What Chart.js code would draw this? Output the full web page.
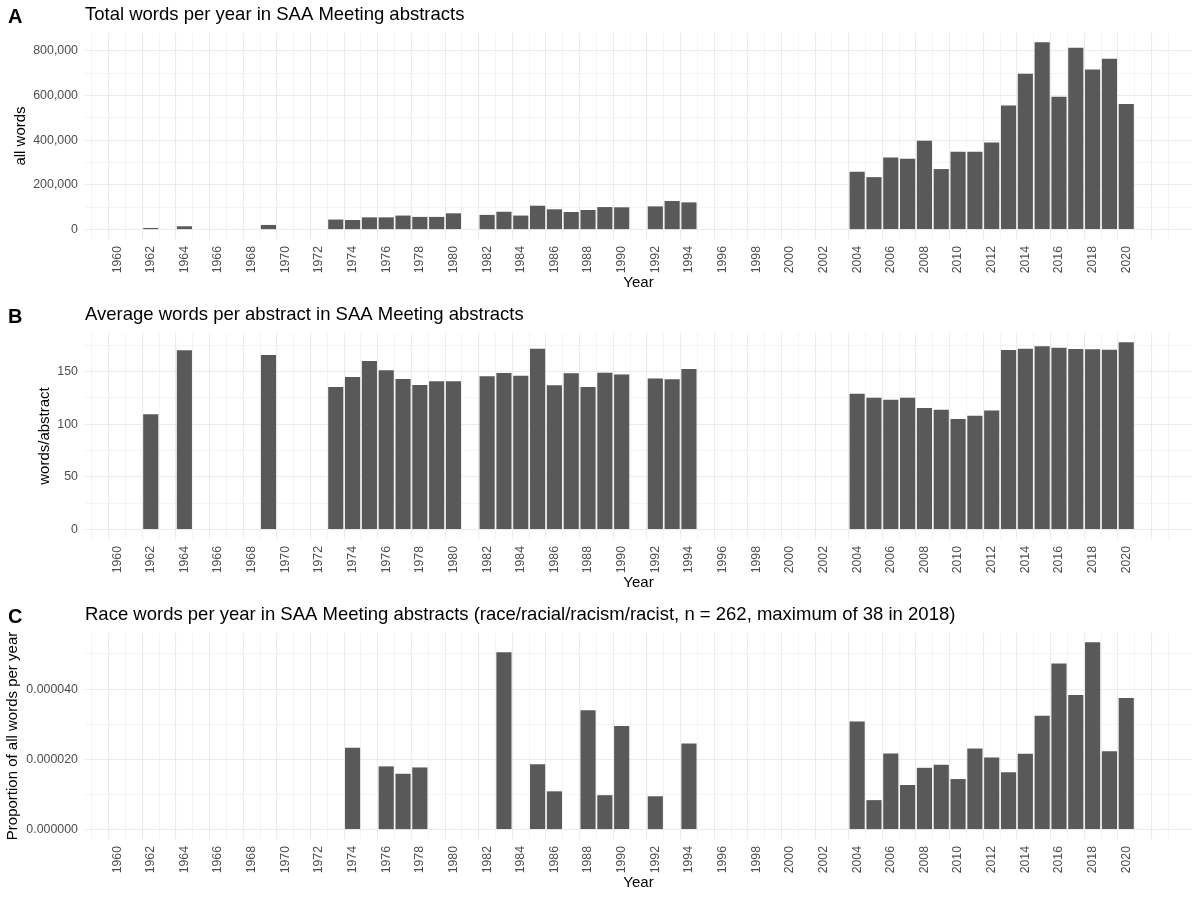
<!DOCTYPE html>
<html lang="en">
<head>
<meta charset="UTF-8">
<title>SAA Meeting abstracts</title>
<script src="https://cdn.jsdelivr.net/npm/chart.js"></script>
<style>
  body { margin: 0; background: #fff; }
  .panel { width: 1200px; height: 300px; }
</style>
</head>
<body>
<div class="panel"><canvas id="chart-a" width="1200" height="300"></canvas></div>
<div class="panel"><canvas id="chart-b" width="1200" height="300"></canvas></div>
<div class="panel"><canvas id="chart-c" width="1200" height="300"></canvas></div>

<script>
// years that have abstracts (panels A and B)
const years = [1962, 1964, 1969,
  1973, 1974, 1975, 1976, 1977, 1978, 1979, 1980,
  1982, 1983, 1984, 1985, 1986, 1987, 1988, 1989, 1990,
  1992, 1993, 1994,
  2004, 2005, 2006, 2007, 2008, 2009, 2010, 2011, 2012,
  2013, 2014, 2015, 2016, 2017, 2018, 2019, 2020];

const totalWords = [7500, 15000, 21000,
  45000, 43000, 55000, 55000, 63000, 57000, 57000, 73000,
  66000, 80000, 63000, 107000, 91000, 79000, 88000, 101000, 100000,
  104000, 128000, 122000,
  259000, 235000, 323000, 317000, 398000, 271000, 349000, 349000, 390000,
  556000, 697000, 838000, 595000, 814000, 717000, 765000, 562000];

const avgWords = [109.5, 170.3, 165.8,
  135.4, 144.9, 160.1, 151.3, 143.0, 137.3, 140.8, 140.8,
  145.6, 148.7, 146.2, 171.8, 137.0, 148.4, 135.4, 149.0, 147.2,
  143.4, 142.7, 152.5,
  129.1, 125.3, 123.4, 125.3, 115.5, 113.9, 105.1, 108.2, 113.0,
  170.6, 171.8, 174.0, 172.8, 171.5, 171.2, 170.9, 177.8];

// years with at least one race word (panel C)
const raceYears = [1974, 1976, 1977, 1978, 1983, 1985, 1986, 1988, 1989, 1990, 1992, 1994,
  2004, 2005, 2006, 2007, 2008, 2009, 2010, 2011, 2012,
  2013, 2014, 2015, 2016, 2017, 2018, 2019, 2020];

const raceProportion = [0.0000233, 0.0000180, 0.0000159, 0.0000177, 0.0000505, 0.0000186,
  0.0000109, 0.0000340, 0.0000098, 0.0000295, 0.0000095, 0.0000245,
  0.0000308, 0.0000084, 0.0000217, 0.0000127, 0.0000176, 0.0000185, 0.0000144, 0.0000231, 0.0000205,
  0.0000163, 0.0000216, 0.0000324, 0.0000473, 0.0000383, 0.0000533, 0.0000223, 0.0000375];

const yearLabels = [1960, 1962, 1964, 1966, 1968, 1970, 1972, 1974, 1976, 1978, 1980,
  1982, 1984, 1986, 1988, 1990, 1992, 1994, 1996, 1998, 2000,
  2002, 2004, 2006, 2008, 2010, 2012, 2014, 2016, 2018, 2020];

Chart.defaults.font.family = '"Liberation Sans", Arial, Helvetica, sans-serif';

// x range like ggplot: bar extent plus 5% each side
const xLo = 1962 - 0.45, xHi = 2020 + 0.45;
const xPad = (xHi - xLo) * 0.05;

const gridColor = '#EBEBEB';

const panelLetter = {
  id: 'panelLetter',
  afterDraw(chart, args, opts) {
    const ctx = chart.ctx;
    ctx.save();
    ctx.font = 'bold 20px "Liberation Sans", Arial, sans-serif';
    ctx.fillStyle = '#000';
    ctx.textBaseline = 'alphabetic';
    ctx.fillText(opts.text, 8, 23.3);
    ctx.restore();
  }
};

function makePanel(id, letter, title, xs, ys, yTitle, yTitlePad, yStep, yMajor, fmt) {
  const yMax = Math.max(...ys);
  const yTicks = [];
  for (let v = 0; v <= yMax * 1.05; v += yStep) yTicks.push(v);
  const isMajorY = v => Math.abs(v / yMajor - Math.round(v / yMajor)) < 1e-6;

  new Chart(document.getElementById(id), {
    type: 'bar',
    data: {
      datasets: [{
        data: xs.map((x, i) => ({ x: x, y: ys[i] })),
        backgroundColor: '#595959',
        borderWidth: 0,
        categoryPercentage: 1,
        barPercentage: 0.9
      }]
    },
    plugins: [panelLetter],
    options: {
      responsive: false,
      animation: false,
      layout: { padding: { left: 0, right: 8, top: 0, bottom: 0 } },
      plugins: {
        legend: { display: false },
        tooltip: { enabled: false },
        panelLetter: { text: letter },
        title: {
          display: true,
          text: title,
          align: 'start',
          fullSize: false,
          color: '#000',
          font: { size: 18.5, weight: 'normal' },
          padding: { top: 4, bottom: 6.8 }
        }
      },
      scales: {
        x: {
          type: 'linear',
          min: xLo - xPad,
          max: xHi + xPad,
          afterBuildTicks: s => {
            const t = [];
            for (let v = 1959; v <= 2022; v++) t.push({ value: v });
            s.ticks = t;
          },
          afterFit: s => { s.height = 61; },
          ticks: {
            autoSkip: false,
            minRotation: 90,
            maxRotation: 90,
            padding: 7,
            color: '#4D4D4D',
            font: { size: 12.3 },
            callback: v => yearLabels.includes(v) ? String(v) : ''
          },
          grid: {
            color: gridColor,
            lineWidth: c => (c.tick && c.tick.value % 2 === 0) ? 1.1 : 0.55,
            drawTicks: false
          },
          border: { display: false },
          title: {
            display: true,
            text: 'Year',
            color: '#000',
            font: { size: 15 },
            padding: { top: 0, bottom: 8 }
          }
        },
        y: {
          min: -yMax * 0.05,
          max: yMax * 1.05,
          afterBuildTicks: s => { s.ticks = yTicks.map(v => ({ value: v })); },
          afterFit: s => { s.width = 85; },
          ticks: {
            padding: 7,
            color: '#4D4D4D',
            font: { size: 12.4 },
            callback: v => isMajorY(v) ? fmt(v) : ''
          },
          grid: {
            color: gridColor,
            lineWidth: c => (c.tick && isMajorY(c.tick.value)) ? 1.1 : 0.55,
            drawTicks: false
          },
          border: { display: false },
          title: {
            display: true,
            text: yTitle,
            color: '#000',
            font: { size: 15 },
            padding: { top: yTitlePad, bottom: 0 }
          }
        }
      }
    }
  });
}

makePanel('chart-a', 'A', 'Total words per year in SAA Meeting abstracts',
  years, totalWords, 'all words', 12, 100000, 200000,
  v => v.toLocaleString('en-US'));

makePanel('chart-b', 'B', 'Average words per abstract in SAA Meeting abstracts',
  years, avgWords, 'words/abstract', 36, 25, 50,
  v => String(Math.round(v)));

makePanel('chart-c', 'C', 'Race words per year in SAA Meeting abstracts (race/racial/racism/racist, n = 262, maximum of 38 in 2018)',
  raceYears, raceProportion, 'Proportion of all words per year', 4, 0.00001, 0.00002,
  v => v.toFixed(6));
</script>
</body>
</html>
